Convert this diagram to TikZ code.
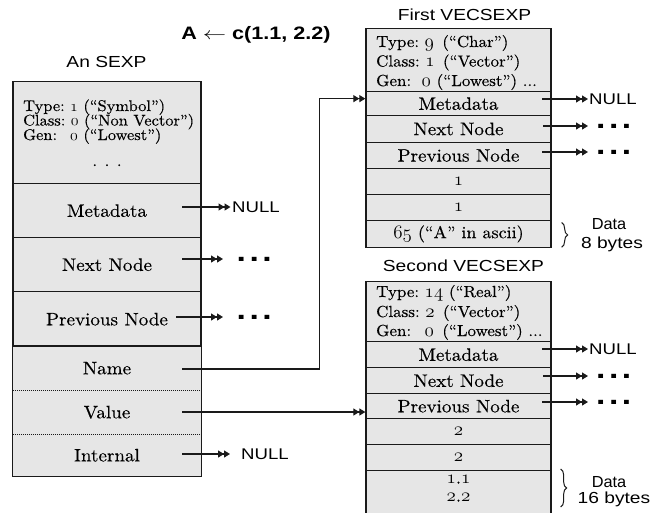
\documentclass[tikz,border=0pt]{standalone}
\usepackage{fontspec}
\setmainfont{lmroman10-regular}[Extension=.otf,FakeStretch=1.06,FakeBold=0.3]
\newfontfamily\lsans{Liberation Sans}[FakeStretch=1.2]
\usetikzlibrary{arrows.meta,calc,decorations.pathreplacing}
\newcommand\osn[1]{\scalebox{1.1}{\fontencoding{OML}\fontfamily{cmm}\fontseries{m}\fontshape{it}\selectfont #1}}
\newcommand\sqdots{{\lsans\bfseries\fontsize{28}{28}\selectfont .\hspace{3.5pt}.\hspace{3.5pt}.}}
\definecolor{boxgray}{HTML}{E6E6E6}
\definecolor{edge}{HTML}{1A1A1A}
\begin{document}
\begin{tikzpicture}[x=1pt,y=-1pt,
  cellbase/.style={fill=boxgray, inner sep=0pt, anchor=north, font=\fontsize{18}{18}\selectfont},
  cellL/.style={cellbase, draw=edge, line width=1.3pt, minimum width=188pt},
  cellLfill/.style={cellbase, minimum width=188pt},
  cellV/.style={cellbase, draw=edge, line width=1.3pt, minimum width=185pt},
  hdrtxt/.style={anchor=base west, inner sep=0pt, text height=9pt, text depth=2pt, font=\fontsize{16}{16}\selectfont},
  hdrtxtL/.style={hdrtxt, font=\fontsize{15.5}{15.5}\selectfont},
  valtxt/.style={anchor=base, inner sep=0pt, text height=8pt, text depth=1pt, font=\fontsize{17}{17}\selectfont},
  sanstitle/.style={anchor=base, inner sep=0pt, font=\lsans\fontsize{16}{16}\selectfont},
  nulltxt/.style={anchor=west, inner sep=0pt, font=\lsans\fontsize{15.5}{15.5}\selectfont},
  dotstxt/.style={anchor=west, inner sep=0pt},
  dbl/.style={-{Triangle[length=6pt,width=7pt]Triangle[length=6pt,width=7pt]}, line width=1.2pt, draw=edge},
  boxline/.style={draw=edge, line width=1.3pt},
  bracestyle/.style={decorate, decoration={brace, amplitude=6pt}, line width=1pt, draw=edge}
]
\useasboundingbox (0,0) rectangle (662,512);

% title
\node[anchor=base, inner sep=0pt, font=\lsans\bfseries\fontsize{18}{18}\selectfont] (title) at (256,39)
  {A \scalebox{1.35}[1]{$\leftarrow$} c(1.1, 2.2)};

% ---------------- An SEXP ----------------
\node[sanstitle] (sTitle) at (106.5,67.5) {An SEXP};
\node[cellL, minimum height=102pt] (sHdr) at (107,81) {};
\node[hdrtxtL] (sH1) at (23,111) {Type:~\osn{1} (“Symbol”)};
\node[hdrtxtL] (sH2) at (23,125.5) {Class:~\osn{0} (“Non Vector”)};
\node[hdrtxtL] (sH3) at (23,140) {\rlap{Gen:}\hphantom{Type:}~\osn{0} (“Lowest”)};
\node[anchor=base, inner sep=0pt, font=\fontsize{16}{16}\selectfont] (sH4) at (107,166) {. . .};
\node[cellL, minimum height=54pt] (sMeta) at (107,183) {Metadata};
\node[cellL, minimum height=54pt] (sNext) at (107,237) {Next Node};
\node[cellL, minimum height=55pt] (sPrev) at (107,291) {Previous Node};
\node[cellLfill, minimum height=44pt] (sName) at (107,346) {Name};
\node[cellLfill, minimum height=44pt] (sVal) at (107,390) {Value};
\node[cellLfill, minimum height=42pt] (sInt) at (107,434) {Internal};
\draw[boxline] (sName.north west) rectangle (sInt.south east);
\draw[edge, line width=1pt, dash pattern=on 1pt off 1pt] (sName.south west) -- (sName.south east);
\draw[edge, line width=1pt, dash pattern=on 1pt off 1pt] (sVal.south west) -- (sVal.south east);

% ---------------- First VECSEXP ----------------
\node[sanstitle] (v1Title) at (464.5,20.5) {First VECSEXP};
\node[cellV, minimum height=63pt] (v1Hdr) at (458.5,28) {};
\node[hdrtxt] (v1H1) at (376,47) {Type:~\osn{9}~\,(“Char”)};
\node[hdrtxt] (v1H2) at (376,66.5) {Class:~\osn{1}~\,(“Vector”)};
\node[hdrtxt] (v1H3) at (376,86) {\rlap{Gen:}\hphantom{Type:}\,\osn{0} (“Lowest”) ...};
\node[cellV, minimum height=24pt] (v1Meta) at (458.5,91) {Metadata};
\node[cellV, minimum height=26.5pt] (v1Next) at (458.5,115) {Next Node};
\node[cellV, minimum height=26.5pt] (v1Prev) at (458.5,141.5) {Previous Node};
\node[cellV, minimum height=25.5pt] (v1L1) at (458.5,168) {\osn{1}};
\node[cellV, minimum height=26pt] (v1L2) at (458.5,193.5) {\osn{1}};
\node[cellV, minimum height=27.5pt, font=\fontsize{17}{17}\selectfont] (v1Dat) at (458.5,219.5) {\osn{65} (“A” in ascii)};
\draw[bracestyle] ($(v1Dat.north east)+(10,3)$) -- ($(v1Dat.south east)+(10,-1)$);
\node[sanstitle] (v1D1) at (609,229) {\scalebox{0.85}[1]{Data}};
\node[sanstitle] (v1D2) at (612,248) {8 bytes};

% ---------------- Second VECSEXP ----------------
\node[sanstitle] (v2Title) at (463.5,271) {Second VECSEXP};
\node[cellV, minimum height=60pt] (v2Hdr) at (458.5,281) {};
\node[hdrtxt] (v2H1) at (376,297) {Type:~\osn{14} (“Real”)};
\node[hdrtxt] (v2H2) at (376,317) {Class:~\osn{2}~\,(“Vector”)};
\node[hdrtxt] (v2H3) at (376,336) {\rlap{Gen:}\hphantom{Type:}~\osn{0}~\,(“Lowest”) ...};
\node[cellV, minimum height=26pt] (v2Meta) at (458.5,341) {Metadata};
\node[cellV, minimum height=26pt] (v2Next) at (458.5,367) {Next Node};
\node[cellV, minimum height=25pt] (v2Prev) at (458.5,393) {Previous Node};
\node[cellV, minimum height=26pt] (v2L1) at (458.5,418) {\osn{2}};
\node[cellV, minimum height=26pt] (v2L2) at (458.5,444) {\osn{2}};
\node[cellV, minimum height=50pt] (v2Dat) at (458.5,470) {};
\node[valtxt] (v2Val1) at (458.5,483.5) {\osn{1}.\osn{1}};
\node[valtxt] (v2Val2) at (458.5,501.5) {\osn{2}.\osn{2}};
\draw[bracestyle] ($(v2Dat.north east)+(9,-1)$) -- ($(v2Dat.north east)+(9,37)$);
\node[sanstitle] (v2D1) at (609,487) {\scalebox{0.85}[1]{Data}};
\node[sanstitle] (v2D2) at (614,503) {16 bytes};

% ---------------- connectors ----------------
\coordinate (sMetaO) at (182,207);
\coordinate (sNextO) at (182,259);
\coordinate (sPrevO) at (176,317);
\coordinate (sNameO) at (182,369);
\coordinate (sValO) at (182,412);
\coordinate (sIntO) at (182,454);
\node[nulltxt] (nA) at (232,207) {NULL};
\node[dotstxt] (dA) at (236.5,259) {\sqdots};
\node[dotstxt] (dB) at (236.5,317) {\sqdots};
\node[nulltxt] (nB) at (241,454) {NULL};
\draw[dbl, shorten >=1.5pt] (sMetaO) -- (nA.west);
\draw[dbl, shorten >=13.5pt] (sNextO) -- (dA.west);
\draw[dbl, shorten >=13.5pt] (sPrevO) -- (dB.west);
\draw[dbl, shorten >=11pt] (sIntO) -- (nB.west);

\coordinate (v1In) at ($(v1Meta.west)+(0,-5)$);
\draw[dbl] (sNameO) -| ($(v1In)+(-46,0)$) -- (v1In);
\draw[dbl] (sValO) -- (sValO -| v2Prev.west);

\coordinate (v1MetaO) at (542,99);
\coordinate (v1NextO) at (543,126);
\coordinate (v1PrevO) at (542,152);
\node[nulltxt] (nC) at (589,99) {NULL};
\node[dotstxt] (dC) at (596,126) {\sqdots};
\node[dotstxt] (dD) at (596,152) {\sqdots};
\draw[dbl, shorten >=1pt] (v1MetaO) -- (nC.west);
\draw[dbl, shorten >=8pt] (v1NextO) -- (dC.west);
\draw[dbl, shorten >=8pt] (v1PrevO) -- (dD.west);

\coordinate (v2MetaO) at (542,349);
\coordinate (v2NextO) at (543,376);
\coordinate (v2PrevO) at (542,402);
\node[nulltxt] (nD) at (589,349) {NULL};
\node[dotstxt] (dE) at (596,376) {\sqdots};
\node[dotstxt] (dF) at (596,402) {\sqdots};
\draw[dbl, shorten >=1pt] (v2MetaO) -- (nD.west);
\draw[dbl, shorten >=8pt] (v2NextO) -- (dE.west);
\draw[dbl, shorten >=8pt] (v2PrevO) -- (dF.west);
\end{tikzpicture}
\end{document}
